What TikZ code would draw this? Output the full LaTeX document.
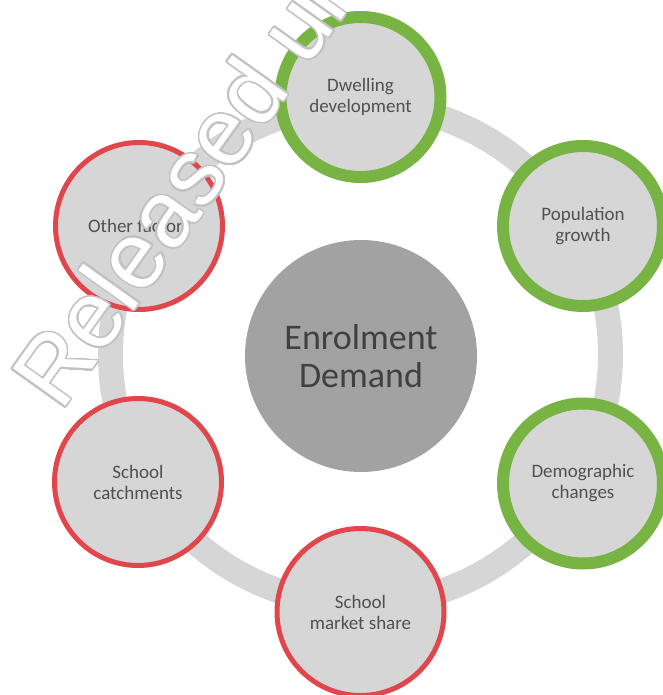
\documentclass[tikz,border=0pt]{standalone}
\usepackage{fontspec}
\setmainfont{Carlito}
\newfontfamily\wmfont{Liberation Sans}
\usepackage{contour}
\contourlength{1.5pt}

\definecolor{ringgray}{HTML}{D6D6D6}
\definecolor{nodegray}{HTML}{D6D6D6}
\definecolor{hubgray}{HTML}{A2A2A2}
\definecolor{factorgreen}{HTML}{77B444}
\definecolor{factorred}{HTML}{E0464B}
\definecolor{labelgray}{HTML}{505050}
\definecolor{hubtext}{HTML}{404040}
\definecolor{wmgray}{HTML}{C2C2C2}

\tikzset{
  factor/.style={circle, fill=nodegray, align=center, text=labelgray,
    font=\fontsize{19}{21}\selectfont, inner sep=0pt},
  growthfactor/.style={factor, draw=factorgreen, line width=12pt, minimum size=160pt},
  limitfactor/.style={factor, draw=factorred, line width=5pt, minimum size=167pt},
  hub/.style={circle, fill=hubgray, minimum size=232pt, inner sep=0pt,
    align=center, text=hubtext, font=\fontsize{36}{38}\selectfont},
  cycle ring/.style={draw=ringgray, line width=25pt},
}

\begin{document}
\begin{tikzpicture}[x=1pt, y=-1pt]
  \useasboundingbox (0,0) rectangle (662,695);

  % ring that links the six factors
  \coordinate (ringc) at (360.5,354.5);
  \draw[cycle ring] (ringc) circle[radius=250pt];

  % central demand
  \node[hub] (demand) at (361,356) {Enrolment\\Demand};

  % factors around the ring
  \node[growthfactor] (dwell) at (360.5,97)  {Dwelling\\development};
  \node[growthfactor] (pop)   at (583,226)   {Population\\growth};
  \node[growthfactor] (demo)  at (583,483.5) {Demographic\\changes};
  \node[limitfactor]  (share) at (360.5,612) {School\\market share};
  \node[limitfactor]  (catch) at (138,482)   {School\\catchments};
  \node[limitfactor]  (other) at (139,226)   {Other factors};

  % release stamp across the sheet, white letters with an outline
  \begin{scope}
    \clip (0,0) rectangle (662,695);
    \node[rotate=54.5, anchor=base west, inner sep=0pt,
          font=\wmfont\fontsize{94}{94}\selectfont] (stamp) at (61,413)
      {\contour[48]{wmgray}{\color{white}Released under}};
  \end{scope}
\end{tikzpicture}
\end{document}
